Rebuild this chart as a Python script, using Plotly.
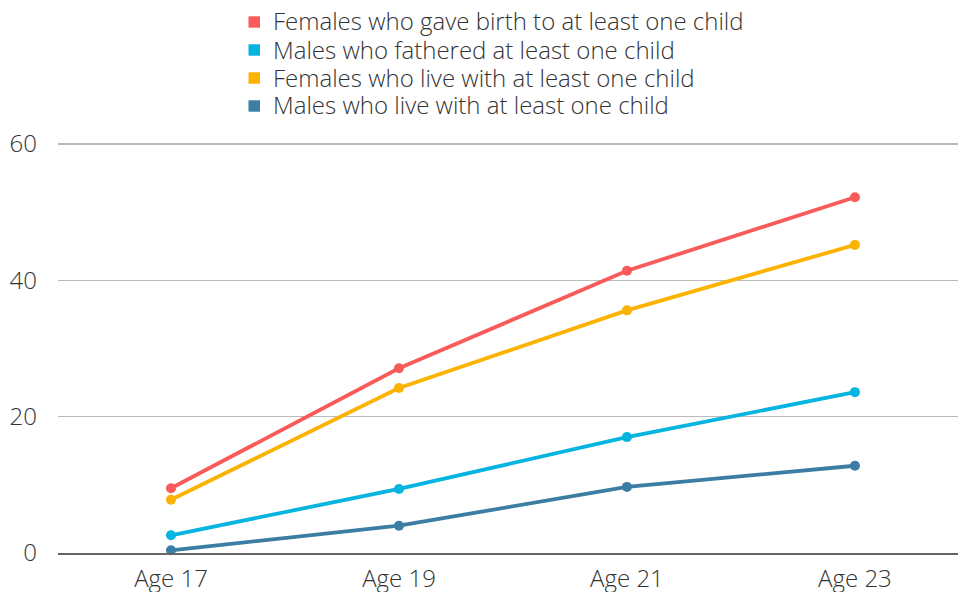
import plotly.graph_objects as go

categories = ["Age 17", "Age 19", "Age 21", "Age 23"]
series_names = [
    "Females who gave birth to at least one child",
    "Males who fathered at least one child",
    "Females who live with at least one child",
    "Males who live with at least one child",
]
females_birth = [9.5, 27.1, 41.4, 52.2]
males_fathered = [2.6, 9.4, 17.0, 23.6]
females_live = [7.8, 24.2, 35.6, 45.2]
males_live = [0.4, 4.0, 9.7, 12.8]
y_ticks = [0, 20, 40, 60]

colors = ["#F95B5B", "#06B4E0", "#FCB300", "#3B7DA3"]
values = [females_birth, males_fathered, females_live, males_live]
order = [3, 1, 2, 0]

fig = go.Figure()
for i in order:
    fig.add_trace(go.Scatter(
        x=categories, y=values[i], mode="lines+markers", name=series_names[i],
        line=dict(color=colors[i], width=3.8),
        marker=dict(color=colors[i], size=10),
        showlegend=False, cliponaxis=False, hoverinfo="skip",
    ))

# page body margin is removed below, so figure coords == window coords
L, T, B = 58, 143, 39
W, H = 958, 592
plot_w = W - L
plot_h = H - T - B


def px_x(fx):
    return (fx - L) / plot_w


def px_y(fy):
    return (H - B - fy) / plot_h


row_centers = [22.0, 50.0, 78.0, 106.0]
for c, n, cy in zip(colors, series_names, row_centers):
    fig.add_shape(
        type="rect", xref="paper", yref="paper",
        x0=px_x(248.5), x1=px_x(260), y0=px_y(cy - 5.7), y1=px_y(cy + 5.7),
        fillcolor=c, line=dict(width=0),
    )
    fig.add_annotation(
        text=n, xref="paper", yref="paper",
        x=px_x(271), xanchor="left", y=px_y(cy - 1), yanchor="middle",
        showarrow=False, align="left",
        font=dict(size=24, color="#333333", family="Open Sans, sans-serif", weight=300),
    )

font_family = "Open Sans, sans-serif"
fig.update_layout(
    width=W, height=H,
    margin=dict(l=L, r=0, t=T, b=B, autoexpand=False),
    paper_bgcolor="white", plot_bgcolor="white",
    font=dict(family=font_family, color="#333333", size=24, weight=300),
    showlegend=False,
    hovermode=False,
    xaxis=dict(
        type="category", range=[-0.4956, 3.452],
        showgrid=False, showline=True, linecolor="#666666", linewidth=2,
        ticks="", tickangle=0, ticklabelstandoff=3,
        tickfont=dict(size=24, color="#333333", weight=300),
        zeroline=False, automargin=False,
    ),
    yaxis=dict(
        range=[0, 60.15], tickvals=y_ticks,
        showgrid=True, gridcolor="#BBBBBB", gridwidth=1.5,
        zeroline=False, showline=False, ticks="",
        ticklabelstandoff=20, automargin=False,
        tickfont=dict(size=24, color="#333333", weight=300),
    ),
)

fig.write_html(
    "out.html",
    config={"displayModeBar": False, "staticPlot": True},
    post_script="document.body.style.margin='0';document.body.style.overflow='hidden';",
)
